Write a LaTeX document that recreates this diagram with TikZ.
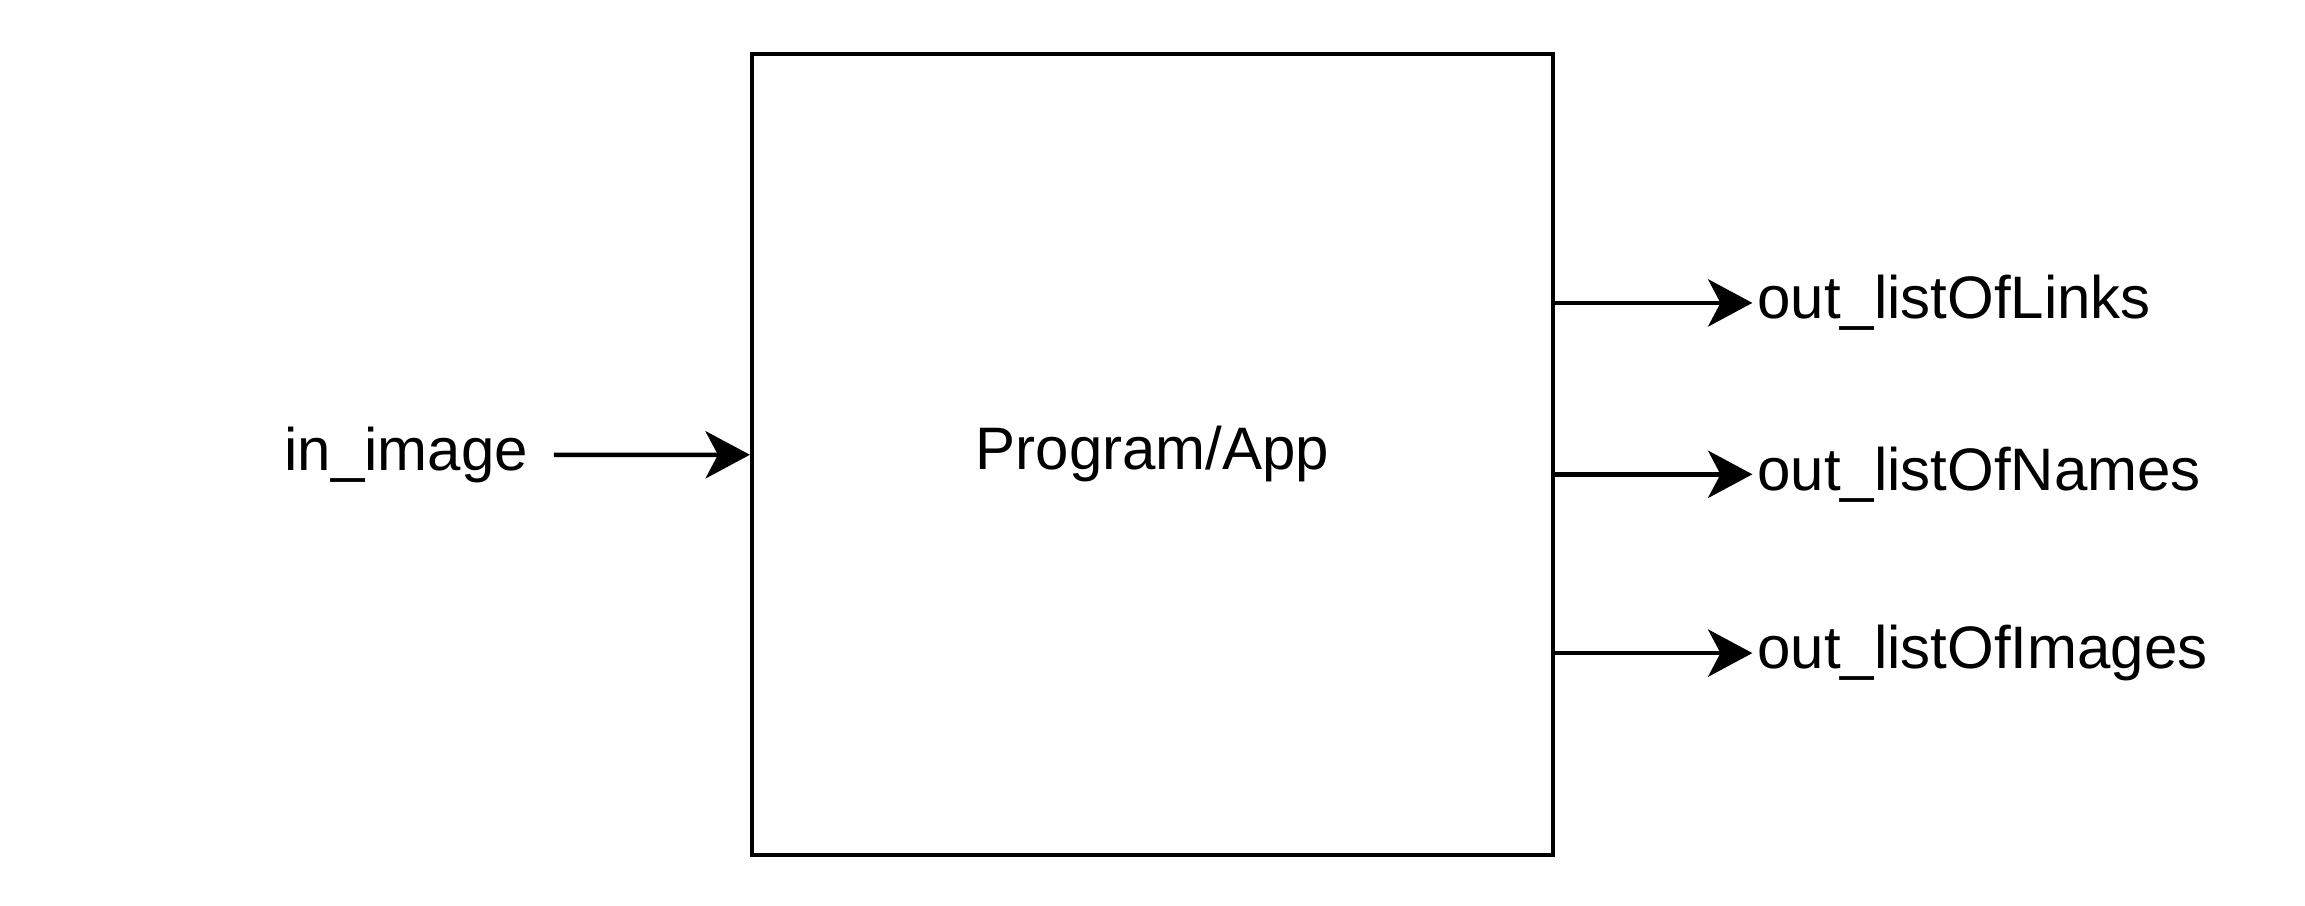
\documentclass[tikz,border=0pt]{standalone}
\usepackage{fontspec}
\setmainfont{Liberation Sans}
\usetikzlibrary{arrows.meta}

\tikzset{
    blk/.style={draw, line width=1.5pt, minimum width=271pt, minimum height=271pt, inner sep=0pt},
    lbl/.style={inner sep=1.5pt},
    arr/.style={line width=1.5pt, -{Stealth[length=15pt, width=16pt, inset=4.2pt]}}
}

\begin{document}
\begin{tikzpicture}[x=0.5pt, y=-0.5pt, font=\fontsize{20.3pt}{24pt}\selectfont]
\useasboundingbox (0,0) rectangle (1560,612.5);
% nodes

\node[blk] (prog) at (780,307.5) {Program/App};
\node[lbl, inner xsep=8.5pt] (inimg) at (275,308) {in\_image};

\draw[arr] (inimg) -- (prog);

\foreach \nm/\y/\txt in {lnk/205/Links, nam/321/Names, img/442/Images}
{
    \node[lbl, anchor=west] (\nm) at (1186,\y) {out\_listOf\txt};
    \draw[arr] (prog.east |- \nm.west) -- (\nm.west);
}
\end{tikzpicture}
\end{document}
